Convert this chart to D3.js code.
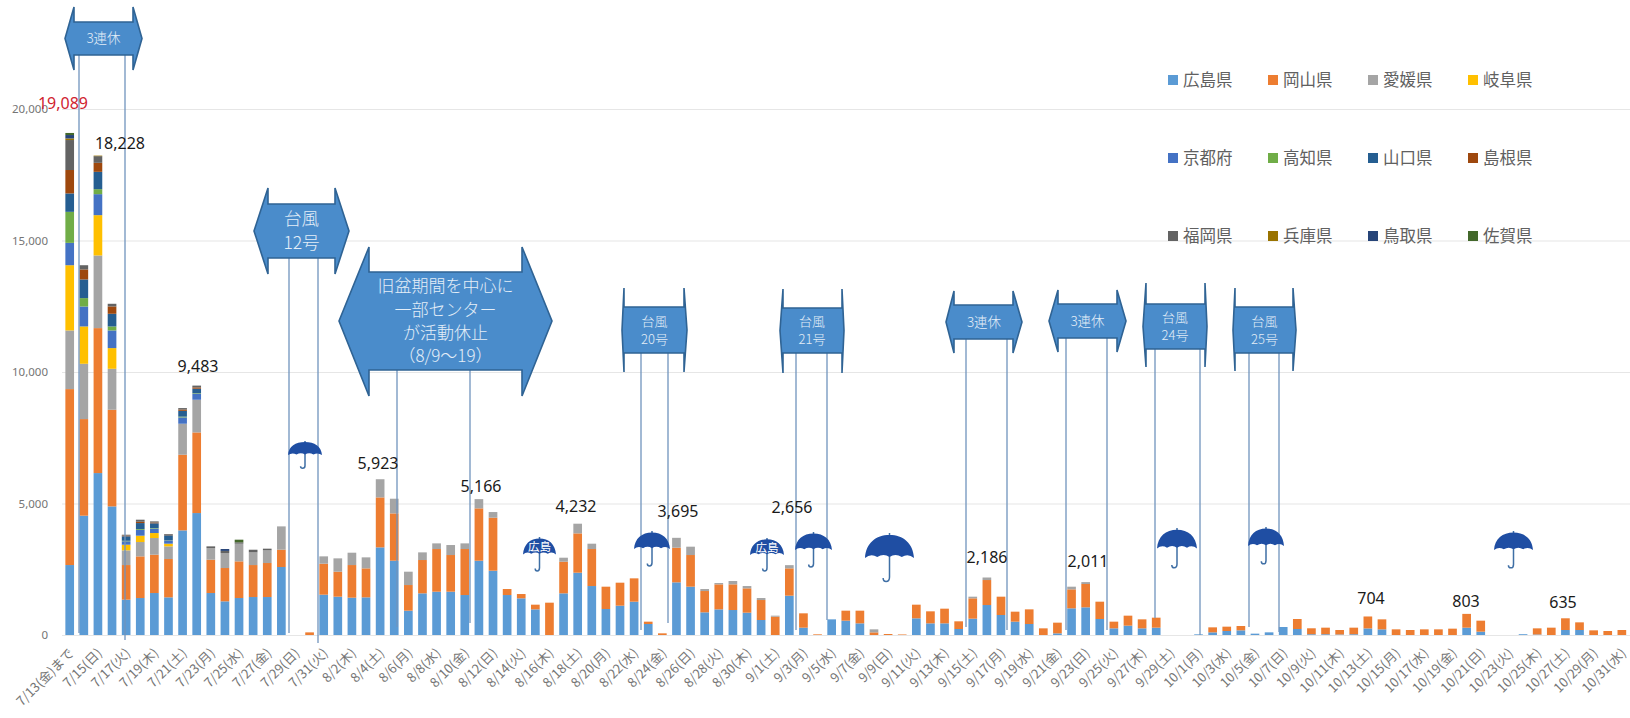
<!DOCTYPE html>
<html lang="ja">
<head>
<meta charset="utf-8">
<title>chart</title>
<style>
    html, body { margin: 0; padding: 0; background: #fff; }
    svg { display: block; }
    text { font-family: "Noto Sans CJK JP", "Noto Sans", sans-serif; }
    .num { font-family: "Noto Sans", sans-serif; }
</style>
<script src="https://cdn.jsdelivr.net/npm/d3@7"></script>
</head>
<body>
<script>
// data
const categories = [
    '7/13(金)まで', '7/14(土)', '7/15(日)', '7/16(月)', '7/17(火)', '7/18(水)', '7/19(木)', '7/20(金)', '7/21(土)', '7/22(日)',
    '7/23(月)', '7/24(火)', '7/25(水)', '7/26(木)', '7/27(金)', '7/28(土)', '7/29(日)', '7/30(月)', '7/31(火)',
    '8/1(水)', '8/2(木)', '8/3(金)', '8/4(土)', '8/5(日)', '8/6(月)', '8/7(火)', '8/8(水)', '8/9(木)', '8/10(金)',
    '8/11(土)', '8/12(日)', '8/13(月)', '8/14(火)', '8/15(水)', '8/16(木)', '8/17(金)', '8/18(土)', '8/19(日)', '8/20(月)',
    '8/21(火)', '8/22(水)', '8/23(木)', '8/24(金)', '8/25(土)', '8/26(日)', '8/27(月)', '8/28(火)', '8/29(水)', '8/30(木)', '8/31(金)',
    '9/1(土)', '9/2(日)', '9/3(月)', '9/4(火)', '9/5(水)', '9/6(木)', '9/7(金)', '9/8(土)', '9/9(日)', '9/10(月)',
    '9/11(火)', '9/12(水)', '9/13(木)', '9/14(金)', '9/15(土)', '9/16(日)', '9/17(月)', '9/18(火)', '9/19(水)', '9/20(木)',
    '9/21(金)', '9/22(土)', '9/23(日)', '9/24(月)', '9/25(火)', '9/26(水)', '9/27(木)', '9/28(金)', '9/29(土)', '9/30(日)',
    '10/1(月)', '10/2(火)', '10/3(水)', '10/4(木)', '10/5(金)', '10/6(土)', '10/7(日)', '10/8(月)', '10/9(火)', '10/10(水)',
    '10/11(木)', '10/12(金)', '10/13(土)', '10/14(日)', '10/15(月)', '10/16(火)', '10/17(水)', '10/18(木)', '10/19(金)', '10/20(土)',
    '10/21(日)', '10/22(月)', '10/23(火)', '10/24(水)', '10/25(木)', '10/26(金)', '10/27(土)', '10/28(日)', '10/29(月)', '10/30(火)', '10/31(水)'
];

const hiroshima = [
    2660, 4536, 6157, 4890, 1343, 1406, 1596, 1432, 3978, 4637,
    1596, 1280, 1406, 1444, 1444, 2585, 0, 0, 1533, 1457,
    1419, 1432, 3332, 2825, 925, 1584, 1647, 1647, 1520, 2825,
    2445, 1520, 1394, 975, 0, 1584, 2369, 1862, 988, 1115,
    1267, 418, 0, 2002, 1837, 862, 975, 950, 849, 570,
    0, 1495, 279, 0, 595, 545, 443, 0, 0, 0,
    634, 443, 443, 228, 621, 1140, 760, 507, 418, 0,
    63, 1014, 1052, 608, 253, 355, 253, 279, 0, 0,
    25, 101, 152, 177, 51, 101, 304, 228, 30, 30,
    20, 30, 250, 215, 0, 0, 0, 0, 0, 279,
    127, 0, 0, 30, 20, 0, 190, 190, 0, 0, 0
];
const okayama = [
    6690, 3674, 5512, 3675, 1317, 1584, 1457, 1457, 2876, 3066,
    1267, 1267, 1394, 1216, 1293, 659, 0, 100, 1178, 950,
    1241, 1102, 1900, 1799, 975, 1267, 1622, 1394, 1749, 1990,
    2015, 228, 164, 178, 1229, 1203, 1495, 1407, 849, 874,
    887, 89, 63, 1318, 1204, 810, 951, 976, 925, 760,
    697, 1039, 545, 25, 0, 380, 482, 100, 38, 20,
    519, 457, 558, 292, 773, 950, 697, 380, 557, 253,
    406, 722, 887, 659, 254, 380, 342, 380, 0, 0,
    0, 190, 165, 165, 0, 0, 0, 380, 225, 249,
    170, 249, 454, 380, 215, 190, 215, 215, 241, 524,
    418, 0, 0, 0, 233, 279, 445, 291, 177, 152, 190
];
const ehime = [
    2230, 2103, 2762, 1558, 558, 545, 634, 481, 1179, 1242,
    444, 570, 672, 482, 481, 886, 0, 0, 279, 507,
    469, 418, 691, 558, 507, 291, 215, 380, 215, 351,
    215, 0, 0, 0, 0, 152, 368, 203, 0, 0,
    0, 0, 0, 375, 317, 76, 50, 127, 88, 76,
    38, 122, 0, 0, 0, 0, 0, 115, 0, 0,
    0, 0, 0, 0, 63, 96, 0, 0, 0, 0,
    0, 101, 72
];
// the smaller prefectures only report in the first weeks
const gifu = [2480, 1419, 1533, 786, 215, 241, 190, 102];
const kyoto = [850, 758, 798, 671, 130, 220, 170, 120, 240, 230];
const kochi = [1180, 320, 190, 152, 20, 30, 20, 10, 30, 20];
const yamaguchi = [700, 710, 659, 482, 170, 230, 180, 190, 220, 170];
const shimane = [890, 380, 342, 279, 30, 50, 30, 17, 50, 50];
const fukuoka = [1140, 160, 254, 101, 30, 78, 43, 30, 55, 68, 63, 80, 52, 100, 64];
const hyogo = [60, 0, 21];
const tottori = [130, 0, 0, 0, 0, 0, 0, 0, 0, 0, 0, 72];
const saga = [79, 0, 0, 0, 0, 0, 0, 0, 0, 0, 0, 0, 100];

const seriesNames = ['広島県', '岡山県', '愛媛県', '岐阜県', '京都府', '高知県', '山口県', '島根県', '福岡県', '兵庫県', '鳥取県', '佐賀県'];
const seriesValues = [hiroshima, okayama, ehime, gifu, kyoto, kochi, yamaguchi, shimane, fukuoka, hyogo, tottori, saga];
const yTicks = [0, 5000, 10000, 15000, 20000];
const labelledBars = [0, 2, 9, 22, 29, 36, 43, 51, 65, 72, 92, 99, 106];

// layout
const width = 1630;
const height = 718;
const colors = ['#5b9bd5', '#ed7d31', '#a5a5a5', '#ffc000', '#4472c4', '#70ad47', '#255e91', '#9e480e', '#636363', '#997300', '#264478', '#43682b'];
const labelPos = [[63, 103], [120, 143], [198, 366], [378, 463], [481, 486], [576, 506], [678, 511], [792, 507], [987, 557], [1088, 561], [1371, 598], [1466, 601], [1563, 602]];

// l/r arrow tips, body sides, top/bottom, head top/bottom, two leaders
const callouts = [
    {lines: ['3連休'], size: 13.5, tip: [65, 142], body: [74, 133], y: [22, 55], head: [7, 70], leaders: [[79, 633], [125, 640]]},
    {lines: ['台風', '12号'], size: 17.5, tip: [254, 349], body: [268, 335], y: [204, 258], head: [188, 274], leaders: [[289, 633], [318, 643]]},
    {lines: ['旧盆期間を中心に', '一部センター', 'が活動休止', '（8/9～19）'], size: 17, tip: [339, 552], body: [369, 522], y: [272, 370], head: [247, 396], leaders: [[397, 627], [470, 623]]},
    {lines: ['台風', '20号'], size: 13, tip: [622, 687], body: [624, 684], y: [307, 353], head: [288, 372], leaders: [[641, 630], [668, 623]]},
    {lines: ['台風', '21号'], size: 13, tip: [780, 844], body: [783, 842], y: [308, 353], head: [289, 373], leaders: [[796, 630], [827, 620]]},
    {lines: ['3連休'], size: 13.5, tip: [946, 1022], body: [954, 1013], y: [305, 339], head: [291, 353], leaders: [[966, 627], [1007, 630]]},
    {lines: ['3連休'], size: 13.5, tip: [1049, 1126], body: [1058, 1117], y: [304, 338], head: [290, 352], leaders: [[1066, 630], [1107, 630]]},
    {lines: ['台風', '24号'], size: 13, tip: [1143, 1207], body: [1146, 1205], y: [304, 349], head: [283, 367], leaders: [[1155, 618], [1200, 635]]},
    {lines: ['台風', '25号'], size: 13, tip: [1233, 1296], body: [1235, 1293], y: [307, 353], head: [288, 371], leaders: [[1249, 627], [1279, 632]]}
];

// x, y, w, h, optional text
const umbrellas = [
    [288, 441, 34, 28],
    [523, 537, 33, 35, '広島'],
    [634, 531, 36, 36],
    [750, 538, 34, 34, '広島'],
    [795, 532, 37, 36],
    [865, 533, 49, 50],
    [1157, 528, 40, 41],
    [1248, 527, 36, 38],
    [1494, 531, 39, 38]
];

const svg = d3.select('body')
    .append('svg')
    .attr('width', width)
    .attr('height', height);

const table = categories.map((c, i) => {
    const row = {category: c};
    seriesNames.forEach((name, j) => {
        row[name] = seriesValues[j][i] || 0;
    });
    return row;
});

const stacked = d3.stack().keys(seriesNames)(table);

const xScale = d3.scaleBand()
    .domain(categories)
    .range([62.65, 1628.9])
    .paddingInner(0.385)
    .paddingOuter(0.1925);

const yScale = d3.scaleLinear()
    .domain([0, 20000])
    .range([635, 109]);

const colorScale = d3.scaleOrdinal()
    .domain(seriesNames)
    .range(colors);

// grid
svg.append('g')
    .attr('transform', 'translate(62, 0)')
    .call(d3.axisLeft(yScale).tickValues(yTicks).tickSize(-(width - 62)).tickFormat(''))
    .call(g => g.select('.domain').remove())
    .call(g => g.selectAll('line').attr('stroke', '#e6e6e6').attr('stroke-width', 1.2));

// y axis
svg.append('g')
    .attr('transform', 'translate(56, 0)')
    .call(d3.axisLeft(yScale).tickValues(yTicks).tickSize(0).tickPadding(8).tickFormat(d3.format(',')))
    .call(g => g.select('.domain').remove())
    .call(g => g.selectAll('text')
        .attr('class', 'num')
        .attr('fill', '#757575')
        .attr('font-size', 11.5));

// bars
svg.append('g')
    .selectAll('g')
    .data(stacked)
    .enter()
    .append('g')
    .attr('fill', d => colorScale(d.key))
    .selectAll('rect')
    .data(d => d)
    .enter()
    .append('rect')
    .attr('x', d => xScale(d.data.category))
    .attr('y', d => yScale(d[1]))
    .attr('width', xScale.bandwidth())
    .attr('height', d => yScale(d[0]) - yScale(d[1]));

// x axis
svg.append('g')
    .attr('transform', 'translate(0, ' + yScale(0) + ')')
    .call(d3.axisBottom(xScale)
        .tickValues(categories.filter((c, i) => i % 2 === 0))
        .tickSize(0)
        .tickSizeOuter(0))
    .call(g => g.select('.domain').attr('stroke', '#e6e6e6'))
    .call(g => g.selectAll('text')
        .attr('x', 0)
        .attr('y', 0)
        .attr('dy', 0)
        .attr('text-anchor', 'end')
        .attr('transform', 'translate(5, 19) rotate(-45)')
        .attr('fill', '#757575')
        .attr('font-size', 13));

// leader lines of the callouts
svg.append('g')
    .selectAll('line')
    .data(callouts.flatMap(c => c.leaders.map(l => ({x: l[0], y1: c.y[1], y2: l[1]}))))
    .enter()
    .append('line')
    .attr('x1', d => d.x)
    .attr('x2', d => d.x)
    .attr('y1', d => d.y1)
    .attr('y2', d => d.y2)
    .attr('stroke', '#7094bd')
    .attr('stroke-width', 1.3);

// double arrow callouts
function calloutPath(c) {
    const cy = (c.y[0] + c.y[1]) / 2;
    return d3.line()([
        [c.tip[0], cy],
        [c.body[0], c.head[0]],
        [c.body[0], c.y[0]],
        [c.body[1], c.y[0]],
        [c.body[1], c.head[0]],
        [c.tip[1], cy],
        [c.body[1], c.head[1]],
        [c.body[1], c.y[1]],
        [c.body[0], c.y[1]],
        [c.body[0], c.head[1]]
    ]) + 'Z';
}

const calloutGroup = svg.append('g')
    .selectAll('g')
    .data(callouts)
    .enter()
    .append('g');

calloutGroup.append('path')
    .attr('d', calloutPath)
    .attr('fill', '#4a8ccb')
    .attr('stroke', '#2f6394')
    .attr('stroke-width', 1.6);

calloutGroup.each(function (c) {
    const cx = (c.tip[0] + c.tip[1]) / 2;
    const cy = (c.y[0] + c.y[1]) / 2;
    const lineHeight = c.size * 1.36;
    d3.select(this).selectAll('text')
        .data(c.lines)
        .enter()
        .append('text')
        .attr('x', cx)
        .attr('y', (d, i) => cy + (i - (c.lines.length - 1) / 2) * lineHeight)
        .attr('dy', '0.36em')
        .attr('text-anchor', 'middle')
        .attr('font-size', c.size)
        .attr('font-weight', 300)
        .attr('fill', '#e4eef8')
        .text(d => d);
});

// umbrellas, drawn in a 100x100 box
const canopy = 'M0,50 C2,20 22,4 50,4 C78,4 98,20 100,50 Q88,40 75,48 Q62,40 50,48 Q38,40 25,48 Q12,40 0,50Z';
const shaft = 'M50,0 L50,88 Q50,97 43,97 Q37,97 37,90';

const umbrella = svg.append('g')
    .selectAll('g')
    .data(umbrellas)
    .enter()
    .append('g');

umbrella.append('path')
    .attr('d', shaft)
    .attr('transform', d => 'translate(' + d[0] + ', ' + d[1] + ') scale(' + d[2] / 100 + ', ' + d[3] / 100 + ')')
    .attr('fill', 'none')
    .attr('stroke', '#3f6fa5')
    .attr('stroke-width', 1.5)
    .attr('vector-effect', 'non-scaling-stroke');

umbrella.append('path')
    .attr('d', canopy)
    .attr('transform', d => 'translate(' + d[0] + ', ' + d[1] + ') scale(' + d[2] / 100 + ', ' + d[3] / 100 + ')')
    .attr('fill', '#1f4ea3');

umbrella.filter(d => d[4])
    .append('text')
    .attr('x', d => d[0] + d[2] / 2)
    .attr('y', d => d[1] + d[3] * 0.4)
    .attr('text-anchor', 'middle')
    .attr('font-size', 11.5)
    .attr('fill', '#fff')
    .text(d => d[4]);

// value labels
svg.append('g')
    .selectAll('text')
    .data(labelledBars)
    .enter()
    .append('text')
    .attr('class', 'num')
    .attr('x', (d, i) => labelPos[i][0])
    .attr('y', (d, i) => labelPos[i][1])
    .attr('dy', '0.36em')
    .attr('text-anchor', 'middle')
    .attr('font-size', 16)
    .attr('fill', (d, i) => i === 0 ? '#d0232f' : '#1a1a1a')
    .text(d => d3.format(',')(d3.sum(seriesValues, s => s[d] || 0)));

// legend, four columns and three rows
const legendX = d3.scaleLinear().domain([0, 3]).range([1168, 1468]);
const legendY = d3.scaleLinear().domain([0, 2]).range([80, 236]);

const legend = svg.append('g')
    .selectAll('g')
    .data(seriesNames)
    .enter()
    .append('g')
    .attr('transform', (d, i) => 'translate(' + legendX(i % 4) + ', ' + legendY(Math.floor(i / 4)) + ')');

legend.append('rect')
    .attr('y', -5)
    .attr('width', 10)
    .attr('height', 10)
    .attr('fill', d => colorScale(d));

legend.append('text')
    .attr('x', 15)
    .attr('dy', '0.36em')
    .attr('font-size', 16.5)
    .attr('fill', '#606060')
    .text(d => d);
</script>
</body>
</html>
